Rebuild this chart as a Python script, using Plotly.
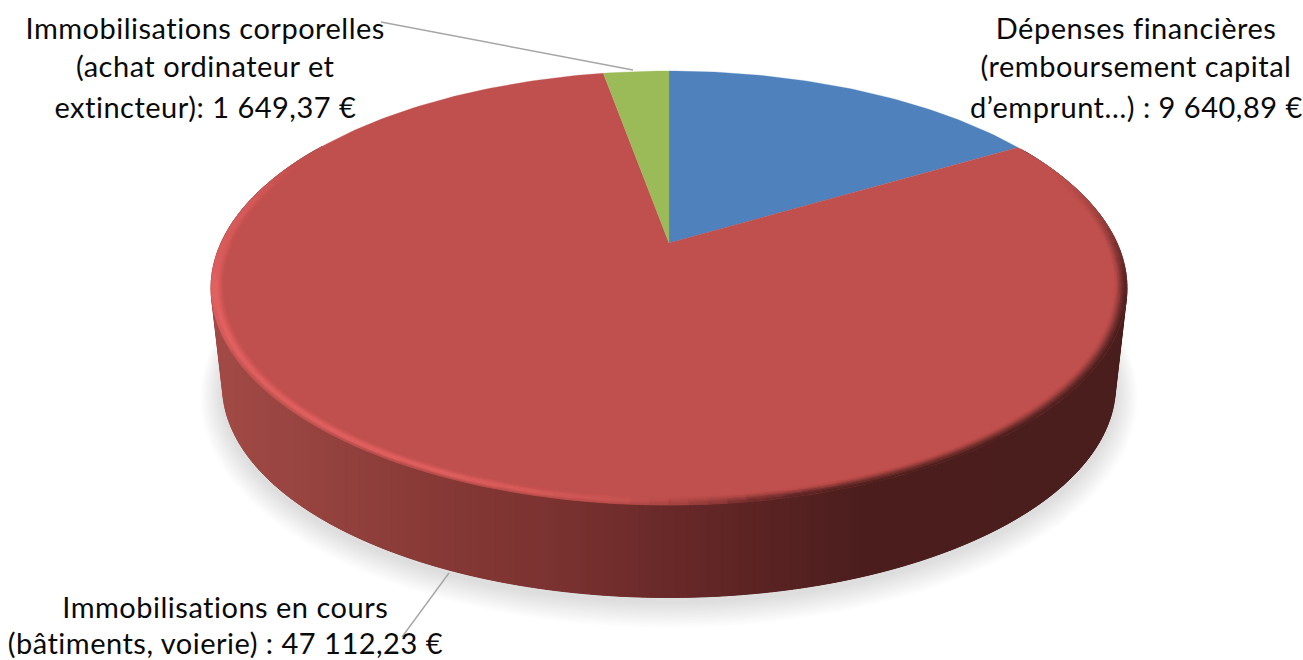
import math
import numpy as np
import plotly.graph_objects as go

# --- data
names = ["Dépenses financières", "Immobilisations en cours", "Immobilisations corporelles"]
values = [9640.89, 47112.23, 1649.37]
colors = ["#4F81BD", "#C0504D", "#9BBB59"]
label_blue = ["Dépenses financières", "(remboursement capital", "d’emprunt…) : 9 640,89 €"]
label_red = ["Immobilisations en cours", "(bâtiments, voierie) : 47 112,23 €"]
label_green = ["Immobilisations corporelles", "(achat ordinateur et", "extincteur): 1 649,37 €"]

# --- perspective model of the disc
CX, CY = 669.0, 243.0
A, B, K = 448.0, 207.7, 0.2074
BOTTOM_DY, BOTTOM_S = 99.0, 0.975
FONT = "Lato"
FS = 29


def proj(theta, r=1.0, dy=0.0, s=1.0):
    """theta: degrees clockwise from the back of the disc."""
    t = math.radians(theta)
    u, v = r * math.sin(t), r * math.cos(t)
    w = 1 + K * v
    return CX + s * A * u / w, CY + dy + s * (-B * v / w)


def lerp(a, b, t):
    return tuple(a[i] + (b[i] - a[i]) * t for i in range(3))


def sstep(a, b, x):
    t = max(0.0, min(1.0, (x - a) / (b - a)))
    return t * t * (3 - 2 * t)


WALL = [(215, (162, 74, 70)), (330, (148, 66, 62)), (450, (133, 56, 53)), (560, (122, 50, 48)),
        (680, (103, 40, 40)), (780, (88, 34, 34)), (860, (75, 30, 29)), (1130, (75, 30, 30))]


def wall_rgb(x):
    for (x0, c0), (x1, c1) in zip(WALL, WALL[1:]):
        if x <= x1:
            return lerp(c0, c1, max(0.0, (x - x0) / (x1 - x0)))
    return WALL[-1][1]


def hexc(c, q=1):
    return "rgb(%d,%d,%d)" % tuple(int(round(v / q) * q) for v in c)


fig = go.Figure()


def poly(xs, ys, color, lw=0.0):
    fig.add_trace(go.Scatter(x=xs, y=ys, mode="lines", fill="toself", fillcolor=color,
                             line=dict(color=color, width=lw), hoverinfo="skip", showlegend=False))


# shadow
for d in range(22, 0, -2):
    pts = []
    for i in range(0, 360, 3):
        x, y = proj(i, dy=BOTTOM_DY, s=BOTTOM_S)
        pts.append((CX + (x - CX) * (1 + d / 446), y + 4 + (y - CY - BOTTOM_DY + 45) * d / 255))
    poly([p[0] for p in pts], [p[1] for p in pts], "rgba(0,0,0,0.011)")

# side wall: slanted quads for the silhouette at the far ends ...
step = 1.0
th = 60.0
while th < 300:
    p = [proj(th), proj(th + 2 * step), proj(th + 2 * step, dy=BOTTOM_DY, s=BOTTOM_S), proj(th, dy=BOTTOM_DY, s=BOTTOM_S)]
    xm = sum(q[0] for q in p) / 4
    poly([q[0] for q in p], [q[1] for q in p], hexc(wall_rgb(xm)), 0.6)
    th += step

# ... and vertical colour bands across the rest
tt = np.arange(102.0, 258.1, 0.5)
bot = [proj(t, dy=BOTTOM_DY, s=BOTTOM_S) for t in tt]
bx = np.array([b[0] for b in bot])[::-1]
by = np.array([b[1] for b in bot])[::-1]
topf = [proj(t) for t in tt]
tx = np.array([b[0] for b in topf])[::-1]
ty = np.array([b[1] for b in topf])[::-1]
col_w = 4.0
x0 = float(bx[0])
while x0 < bx[-1]:
    x1 = min(x0 + col_w + 1.0, float(bx[-1]))
    xs = np.linspace(x0, x1, 4)
    yb = np.interp(xs, bx, by)
    yt = np.interp(xs, tx, ty) - 6
    poly(list(xs) + list(xs[::-1]), list(yb) + list(yt[::-1]), hexc(wall_rgb(x0 + col_w / 2)))
    x0 += col_w

# top slices
total = sum(values)
start = 0.0
for val, col in zip(values, colors):
    sweep = val / total * 360
    n = max(4, int(sweep))
    pts = [proj(start + sweep * i / n) for i in range(n + 1)]
    poly([CX] + [p[0] for p in pts] + [CX], [CY] + [p[1] for p in pts] + [CY], col, 0.3)
    start += sweep

# rim (bevel) on the front of the disc
BASE = (192, 80, 77)
HI = (226, 96, 96)
R0 = 0.972
RINGS = 8
groups = {}
th = 62.0
dth = 2.0
while th < 298:
    tm = th + dth / 2
    light = sstep(172, 208, tm) * (1 - 0.35 * sstep(255, 275, tm)) * (1 - sstep(278, 298, tm))
    dark = sstep(66, 108, tm) * (1 - sstep(165, 188, tm))
    for j in range(RINGS):
        r1, r2 = R0 + (1 - R0) * j / RINGS, R0 + (1 - R0) * (j + 1) / RINGS
        pr = (j + 0.5) / RINGS
        xe, _ = proj(tm)
        w = wall_rgb(xe)
        c = BASE
        if light > 0:
            bump = sstep(0, 0.62, pr)
            c_l = lerp(BASE, HI, bump)
            if pr > 0.62:
                c_l = lerp(c_l, w, 0.5 * sstep(0.62, 1.0, pr) * (1 - sstep(235, 260, tm)))
            c = lerp(c, c_l, light)
        if dark > 0:
            c = lerp(c, lerp(BASE, w, sstep(0, 1, pr)), dark)
        key = hexc(c, 3)
        p = [proj(th, r1), proj(th + dth, r1), proj(th + dth, r2), proj(th, r2)]
        g = groups.setdefault(key, ([], []))
        g[0].extend([q[0] for q in p] + [p[0][0], None])
        g[1].extend([q[1] for q in p] + [p[0][1], None])
    th += dth
for key, (xs, ys) in groups.items():
    poly(xs, ys, key, 0.5)

# leader lines
for lx, ly in [((381, 633), (22, 70)), ((449, 402), (573, 637))]:
    fig.add_trace(go.Scatter(x=list(lx), y=list(ly), mode="lines", line=dict(color="#A6A6A6", width=1.4),
                             hoverinfo="skip", showlegend=False))

# labels
for lines, xc, ys in [(label_green, 205, [27, 65, 106]), (label_blue, 1136, [27, 65, 106]),
                      (label_red, 225, [606, 642])]:
    for txt, y in zip(lines, ys):
        fig.add_annotation(x=xc, y=y, text=txt, showarrow=False, xanchor="center", yanchor="middle",
                           font=dict(family=FONT, size=FS, color="#0A0A0A"))

fig.update_layout(width=1303, height=660, margin=dict(l=0, r=0, t=0, b=0), paper_bgcolor="white",
                  plot_bgcolor="white",
                  xaxis=dict(range=[0, 1303], visible=False, fixedrange=True),
                  yaxis=dict(range=[660, 0], visible=False, fixedrange=True))
fig.write_html("out.html", config={"displayModeBar": False},
               post_script="document.body.style.margin='0';"
                           "document.querySelectorAll('.annotation-text').forEach("
                           "function(t){t.style.letterSpacing='0.5px';});")
